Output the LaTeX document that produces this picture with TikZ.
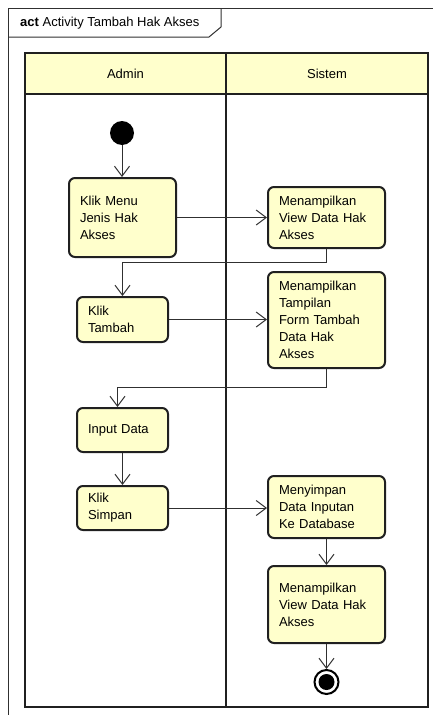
\documentclass[tikz,border=0pt]{standalone}
\usepackage{fontspec}
\setmainfont{Liberation Sans}
\usetikzlibrary{arrows.meta}
\definecolor{laneyellow}{HTML}{FFFFCC}
\definecolor{actfill}{HTML}{FFFFCC}
\definecolor{edge}{HTML}{202020}
\definecolor{wire}{HTML}{303030}
\tikzset{
  txt/.style={font=\fontsize{13}{17}\selectfont},
  action/.style={txt, draw=edge, line width=2pt, fill=actfill, rounded corners=6pt,
    align=left, inner xsep=11pt, inner ysep=0pt},
  flow/.style={draw=wire, line width=1pt,
    -{Straight Barb[length=10pt,width=15pt,line width=1pt]}},
  lane/.style={draw=edge, line width=2pt},
}
\begin{document}
\begin{tikzpicture}[x=1pt,y=-1pt]
\useasboundingbox (0,0) rectangle (433,715);
\clip (0,0) rectangle (433,715);

% diagram frame and title tab
\draw[wire, line width=1pt] (8,8) rectangle (450,730);
\draw[wire, line width=1pt] (8,37) -- (209,37) -- (221,27) -- (221,8);
\node[txt, anchor=west, inner sep=0pt] (title) at (20,23) {\textbf{act} Activity Tambah Hak Akses};

% swimlanes
\fill[laneyellow] (25,53) rectangle (428,94);
\draw[lane] (25,53) rectangle (428,707);
\draw[lane] (25,94) -- (428,94);
\draw[lane] (226,53) -- (226,707);
\node[txt] (admin) at (125.5,74) {Admin};
\node[txt] (sistem) at (327,74) {Sistem};

% activity nodes
\node[circle, fill=black, minimum size=24pt, inner sep=0pt] (init) at (122,133) {};
\node[action, text width=85pt, minimum height=79pt] (a1) at (122.5,217.5) {Klik Menu\\Jenis Hak\\Akses};
\node[action, text width=95pt, minimum height=61pt] (s1) at (326.5,217.5) {Menampilkan\\View Data Hak\\Akses};
\node[action, text width=69pt, minimum height=45pt] (a2) at (122.5,319.5) {Klik\\Tambah};
\node[action, text width=95pt, minimum height=96pt] (s2) at (326.5,320) {Menampilkan\\Tampilan\\Form Tambah\\Data Hak\\Akses};
\node[action, text width=69pt, minimum height=44pt] (a3) at (122.5,430) {Input Data};
\node[action, text width=69pt, minimum height=44pt] (a4) at (122.5,508) {Klik\\Simpan};
\node[action, text width=95pt, minimum height=62pt] (s3) at (326.5,507) {Menyimpan\\Data Inputan\\Ke Database};
\node[action, text width=95pt, minimum height=77pt] (s4) at (326.5,604.5) {Menampilkan\\View Data Hak\\Akses};
\node[circle, draw=black, line width=2pt, fill=white, minimum size=24pt, inner sep=0pt] (final) at (326.5,682) {};
\fill[black] (final.center) circle (8pt);

% control flows
\draw[flow] (init.south) -- (init.south |- a1.north);
\draw[flow] (a1.east) -- (a1.east -| s1.west);
\draw[flow] (s1.south) -- ++(0,13) -| (a2.north);
\draw[flow] (a2.east) -- (a2.east -| s2.west);
\draw[flow] (s2.south) -- ++(0,18) -| ([xshift=-5pt]a3.north);
\draw[flow] (a3.south) -- (a4.north);
\draw[flow] (a4.east) -- (a4.east -| s3.west);
\draw[flow] (s3.south) -- (s4.north);
\draw[flow] (s4.south) -- (final.north);
\end{tikzpicture}
\end{document}
